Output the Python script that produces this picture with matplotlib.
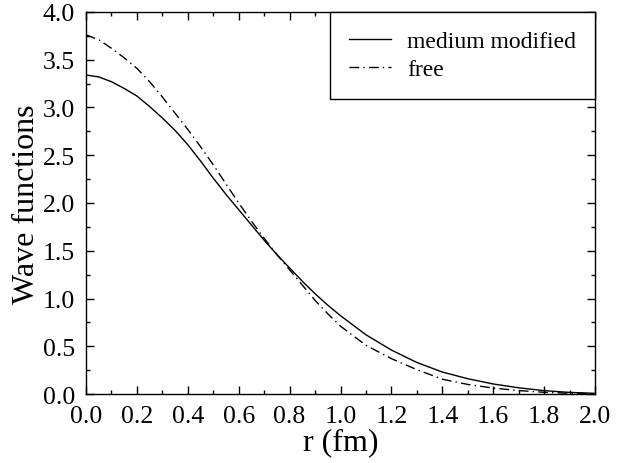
import numpy as np
import matplotlib.pyplot as plt
from matplotlib.ticker import MultipleLocator

plt.rcParams['font.family'] = ['Liberation Serif', 'DejaVu Serif']

# radial grid (fm)
r = [0.0, 0.05, 0.1, 0.15, 0.2, 0.25, 0.3, 0.35, 0.4, 0.45, 0.5,
     0.55, 0.6, 0.65, 0.7, 0.75, 0.8, 0.85, 0.9, 0.95, 1.0,
     1.1, 1.2, 1.3, 1.4, 1.5, 1.6, 1.7, 1.8, 1.9, 2.0]

# wave function with in-medium modification
psi_medium = [3.34, 3.32, 3.27, 3.20, 3.12, 3.01, 2.89, 2.76, 2.61, 2.44, 2.26,
              2.09, 1.93, 1.77, 1.61, 1.46, 1.32, 1.18, 1.05, 0.93, 0.82,
              0.62, 0.46, 0.33, 0.23, 0.16, 0.105, 0.065, 0.035, 0.017, 0.007]

# free wave function
psi_free = [3.76, 3.71, 3.62, 3.52, 3.41, 3.27, 3.11, 2.94, 2.77, 2.59, 2.40,
            2.20, 2.00, 1.81, 1.63, 1.46, 1.30, 1.14, 0.98, 0.84, 0.71,
            0.51, 0.37, 0.255, 0.155, 0.10, 0.062, 0.036, 0.018, 0.008, 0.003]

fig = plt.figure(figsize=(6.31, 4.64), dpi=100)
ax = fig.add_axes([0.1363, 0.1487, 0.943 - 0.1363, 0.972 - 0.1487])

ax.plot(r, psi_medium, color='black', lw=1.0, label='medium modified')
ax.plot(r, psi_free, color='black', lw=1.0, dashes=(7, 3, 1, 3), label='free')

ax.set_xlim(0, 2)
ax.set_ylim(0, 4)
ax.xaxis.set_major_locator(MultipleLocator(0.2))
ax.xaxis.set_minor_locator(MultipleLocator(0.1))
ax.yaxis.set_major_locator(MultipleLocator(0.5))
ax.yaxis.set_minor_locator(MultipleLocator(0.25))
ax.xaxis.set_major_formatter(lambda v, p: f"{v:.1f}")
ax.yaxis.set_major_formatter(lambda v, p: f"{v:.1f}")

ax.tick_params(which='both', direction='in', top=True, right=True,
               labelsize=18.5, width=1.0)
ax.tick_params(which='major', length=6, pad=8)
ax.tick_params(which='minor', length=3)
for s in ax.spines.values():
    s.set_linewidth(1.0)

ax.set_xlabel('r (fm)', fontsize=23, labelpad=0)
ax.set_ylabel('Wave functions', fontsize=23, labelpad=1)

leg = ax.legend(loc='upper right', bbox_to_anchor=(1, 1), borderaxespad=0,
                fontsize=17, fancybox=False, edgecolor='black', framealpha=1,
                handlelength=1.8, handletextpad=0.68, borderpad=0.8,
                labelspacing=0.25)
leg.get_frame().set_linewidth(1.0)

fig.savefig('out.png', dpi=100)
